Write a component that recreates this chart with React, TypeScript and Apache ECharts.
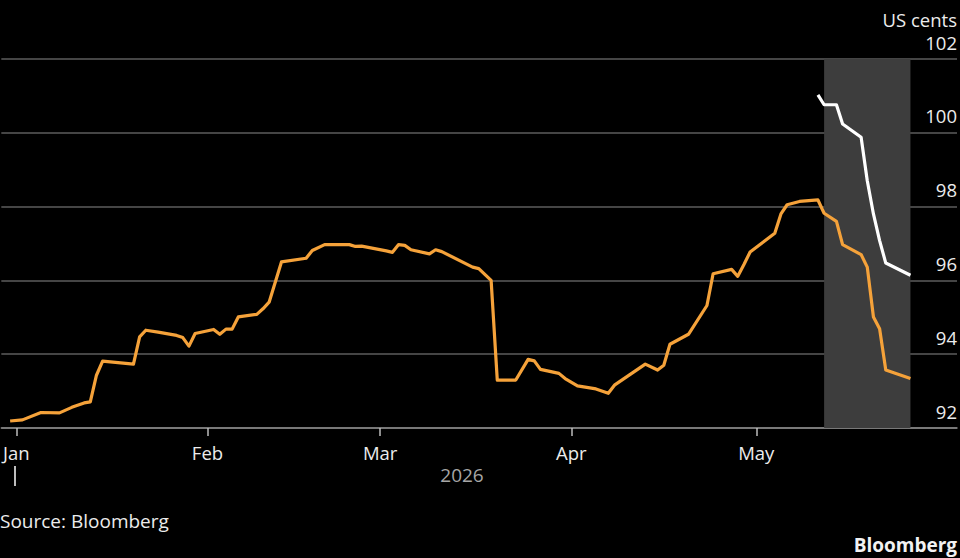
import React, { useEffect, useRef } from "react";
import * as echarts from "echarts";

const orangeDates = [
  "2025-12-31", "2026-01-02", "2026-01-05", "2026-01-08", "2026-01-10", "2026-01-12",
  "2026-01-13", "2026-01-14", "2026-01-15", "2026-01-20", "2026-01-21", "2026-01-22",
  "2026-01-24", "2026-01-27", "2026-01-28", "2026-01-29", "2026-01-30", "2026-02-02",
  "2026-02-03", "2026-02-04", "2026-02-05", "2026-02-06", "2026-02-09", "2026-02-10",
  "2026-02-11", "2026-02-13", "2026-02-17", "2026-02-18", "2026-02-20", "2026-02-24",
  "2026-02-25", "2026-02-26", "2026-03-02", "2026-03-03", "2026-03-04", "2026-03-05",
  "2026-03-06", "2026-03-09", "2026-03-10", "2026-03-11", "2026-03-16", "2026-03-17",
  "2026-03-19", "2026-03-20", "2026-03-23", "2026-03-25", "2026-03-26", "2026-03-27",
  "2026-03-30", "2026-03-31", "2026-04-02", "2026-04-05", "2026-04-07", "2026-04-08",
  "2026-04-13", "2026-04-15", "2026-04-16", "2026-04-17", "2026-04-20", "2026-04-23",
  "2026-04-24", "2026-04-27", "2026-04-28", "2026-04-29", "2026-04-30", "2026-05-04",
  "2026-05-05", "2026-05-06", "2026-05-08", "2026-05-11", "2026-05-12", "2026-05-14",
  "2026-05-15", "2026-05-18", "2026-05-19", "2026-05-20", "2026-05-21", "2026-05-22",
  "2026-05-26"
];
const orangeValues = [
  92.19, 92.22, 92.42, 92.41, 92.56, 92.68,
  92.71, 93.43, 93.81, 93.73, 94.47, 94.65,
  94.6, 94.51, 94.45, 94.22, 94.56, 94.67,
  94.54, 94.68, 94.68, 95.01, 95.08, 95.23,
  95.41, 96.5, 96.6, 96.81, 96.97, 96.97,
  96.92, 96.93, 96.8, 96.76, 96.97, 96.95,
  96.83, 96.72, 96.83, 96.78, 96.36, 96.32,
  96.0, 93.3, 93.3, 93.86, 93.82, 93.59,
  93.48, 93.34, 93.14, 93.06, 92.94, 93.16,
  93.73, 93.57, 93.7, 94.27, 94.54, 95.32,
  96.18, 96.3, 96.11, 96.43, 96.77, 97.28,
  97.8, 98.05, 98.14, 98.18, 97.82, 97.6,
  96.97, 96.7, 96.36, 95.01, 94.69, 93.57,
  93.34
];

const whiteDates = [
  "2026-05-11", "2026-05-12", "2026-05-14", "2026-05-15", "2026-05-18",
  "2026-05-19", "2026-05-20", "2026-05-21", "2026-05-22", "2026-05-26"
];
const whiteValues = [101.03, 100.76, 100.76, 100.24, 99.88, 98.7, 97.8, 97.08, 96.47, 96.14];

const monthTickDates = ["2026-01-01", "2026-02-01", "2026-03-01", "2026-04-01", "2026-05-01"];
const monthLabels = ["Jan", "Feb", "Mar", "Apr", "May"];
const yearLabel = "2026";
const shadeStart = "2026-05-12";
const shadeEnd = "2026-05-26";
const yMin = 92;
const yMax = 102;
const yStep = 2;

const dayOf = (s: string) => {
  const [y, m, d] = s.split("-").map(Number);
  return (Date.UTC(y, m - 1, d) - Date.UTC(2026, 0, 1)) / 86400000;
};

const FONT = "'Open Sans', 'Noto Sans', sans-serif";

export default function App() {
  const ref = useRef<HTMLDivElement>(null);
  useEffect(() => {
    if (!ref.current) return;
    const chart = echarts.init(ref.current, null, { renderer: "svg" });
    const monthDays = monthTickDates.map(dayOf);
    const orangeData = orangeDates.map((d, i) => [dayOf(d), orangeValues[i]]);
    const whiteData = whiteDates.map((d, i) => [dayOf(d), whiteValues[i]]);
    chart.setOption({
      animation: false,
      backgroundColor: "#000000",
      textStyle: { fontFamily: FONT },
      grid: { left: 0, right: 3, top: 59, bottom: 130, containLabel: false },
      xAxis: {
        type: "value",
        min: -2.43,
        max: 152.55,
        axisLine: { show: true, lineStyle: { color: "#8a8a8a", width: 1.5 } },
        axisTick: {
          show: true,
          customValues: monthDays,
          length: 8,
          lineStyle: { color: "#bdbdbd", width: 1.5 },
        },
        axisLabel: {
          show: true,
          customValues: monthDays,
          formatter: (v: number) => {
            const i = monthDays.indexOf(v);
            return i >= 0 ? monthLabels[i] : "";
          },
          color: "#ececec",
          fontSize: 18.5,
          fontFamily: FONT,
          margin: 15,
          lineHeight: 18,
        },
        splitLine: { show: false },
      },
      yAxis: {
        type: "value",
        position: "right",
        min: yMin,
        max: yMax,
        interval: yStep,
        axisLine: { show: false },
        axisTick: { show: false },
        axisLabel: {
          inside: true,
          margin: 0,
          color: "#ececec",
          fontSize: 18.5,
          fontFamily: FONT,
          verticalAlign: "bottom",
          lineHeight: 18,
          padding: [0, 0, 8, 0],
        },
        splitLine: { show: true, lineStyle: { color: "#5c5c5c", width: 1.5 } },
      },
      series: [
        {
          type: "line",
          data: [],
          z: 1,
          silent: true,
          markArea: {
            silent: true,
            itemStyle: { color: "#3d3d3d" },
            data: [[{ xAxis: dayOf(shadeStart) }, { xAxis: dayOf(shadeEnd) }]],
          },
        },
        {
          type: "line",
          data: orangeData,
          symbol: "none",
          z: 3,
          lineStyle: { color: "#F5A23A", width: 3.2, join: "round" },
        },
        {
          type: "line",
          data: whiteData,
          symbol: "none",
          z: 4,
          lineStyle: { color: "#ffffff", width: 3.2, join: "round" },
        },
      ],
      graphic: [
        {
          type: "text",
          x: 957,
          y: 19,
          style: {
            text: "US cents",
            fill: "#ececec",
            font: `18.5px ${FONT}`,
            textAlign: "right",
            textVerticalAlign: "middle",
          },
        },
        {
          type: "text",
          x: 462,
          y: 475,
          style: {
            text: yearLabel,
            fill: "#a6a6a6",
            font: `19px ${FONT}`,
            textAlign: "center",
            textVerticalAlign: "middle",
          },
        },
        {
          type: "line",
          shape: { x1: 15, y1: 466, x2: 15, y2: 486 },
          style: { stroke: "#bdbdbd", lineWidth: 2 },
        },
        {
          type: "text",
          x: 0,
          y: 521,
          style: {
            text: "Source: Bloomberg",
            fill: "#ececec",
            font: `19px ${FONT}`,
            textAlign: "left",
            textVerticalAlign: "middle",
          },
        },
        {
          type: "text",
          x: 957,
          y: 545,
          style: {
            text: "Bloomberg",
            fill: "#f2f2f2",
            font: `bold 19px ${FONT}`,
            textAlign: "right",
            textVerticalAlign: "middle",
          },
        },
      ],
    });
    return () => chart.dispose();
  }, []);
  return (
    <div
      ref={ref}
      style={{ position: "fixed", left: 0, top: 0, width: 960, height: 558, background: "#000" }}
    />
  );
}
